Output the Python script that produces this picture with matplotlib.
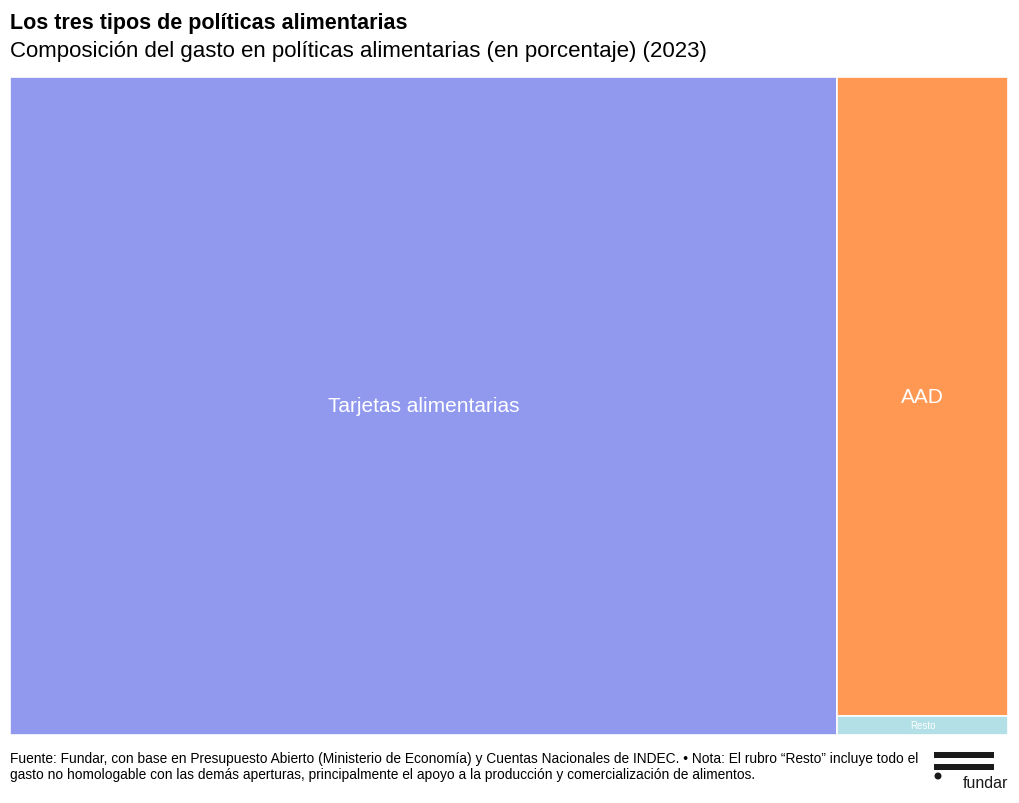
import matplotlib
matplotlib.use("Agg")
import matplotlib.pyplot as plt
from matplotlib.patches import Rectangle, Circle

categories = ["Tarjetas alimentarias", "AAD", "Resto"]
values = [82.9, 16.6, 0.5]
colors = ["#9199EF", "#FF9853", "#B2E0E6"]
label_sizes = [15, 15, 7]

plt.rcParams['font.family'] = ['Liberation Sans', 'DejaVu Sans']

W, H = 1020, 804
fig = plt.figure(figsize=(W/100, H/100), dpi=100)
fig.patch.set_facecolor("white")

# plot area in pixels
x0, y0, x1, y1 = 10, 78, 1008, 736
ax = fig.add_axes([x0/W, 1 - y1/H, (x1-x0)/W, (y1-y0)/H])
ax.set_xlim(0, 1)
ax.set_ylim(0, 1)
ax.axis("off")

total = sum(values)
# slice-and-dice: first item takes a full-height column, rest stacked in remaining column
w0 = values[0] / total
rects = [(0, 0, w0, 1)]
rest_total = sum(values[1:])
ytop = 1.0
for v in values[1:]:
    h = v / rest_total
    rects.append((w0, ytop - h, 1 - w0, h))
    ytop -= h

for (rx, ry, rw, rh), c, lab, fs in zip(rects, colors, categories, label_sizes):
    ax.add_patch(Rectangle((rx, ry), rw, rh, facecolor=c, edgecolor="white", linewidth=1.2))
    ty = ry + rh/2
    ax.text(rx + rw/2, ty, lab, color="white", fontsize=fs, ha="center", va="center")

fig.text(10/W, 1 - 24/H, "Los tres tipos de políticas alimentarias", fontsize=15.5,
         fontweight="bold", ha="left", va="center")
fig.text(10/W, 1 - 51/H, "Composición del gasto en políticas alimentarias (en porcentaje) (2023)",
         fontsize=16, ha="left", va="center")

caption = ("Fuente: Fundar, con base en Presupuesto Abierto (Ministerio de Economía) y Cuentas Nacionales de INDEC. • Nota: El rubro “Resto” incluye todo el\n"
           "gasto no homologable con las demás aperturas, principalmente el apoyo a la producción y comercialización de alimentos.")
fig.text(10/W, 1 - 767/H, caption, fontsize=9.9, ha="left", va="center", linespacing=1.15)

# logo
lax = fig.add_axes([0, 0, 1, 1], facecolor="none")
lax.set_xlim(0, W)
lax.set_ylim(H, 0)
lax.axis("off")
lax.add_patch(Rectangle((934, 753), 60, 6, facecolor="#1a1a1a", edgecolor="none"))
lax.add_patch(Rectangle((934, 765), 60, 6, facecolor="#1a1a1a", edgecolor="none"))
lax.add_patch(Circle((938, 777), 3.5, facecolor="#1a1a1a", edgecolor="none"))
lax.text(1008, 784, "fundar", fontsize=11.5, ha="right", va="center", color="#1a1a1a")

fig.savefig("out.png", dpi=100, facecolor="white")
